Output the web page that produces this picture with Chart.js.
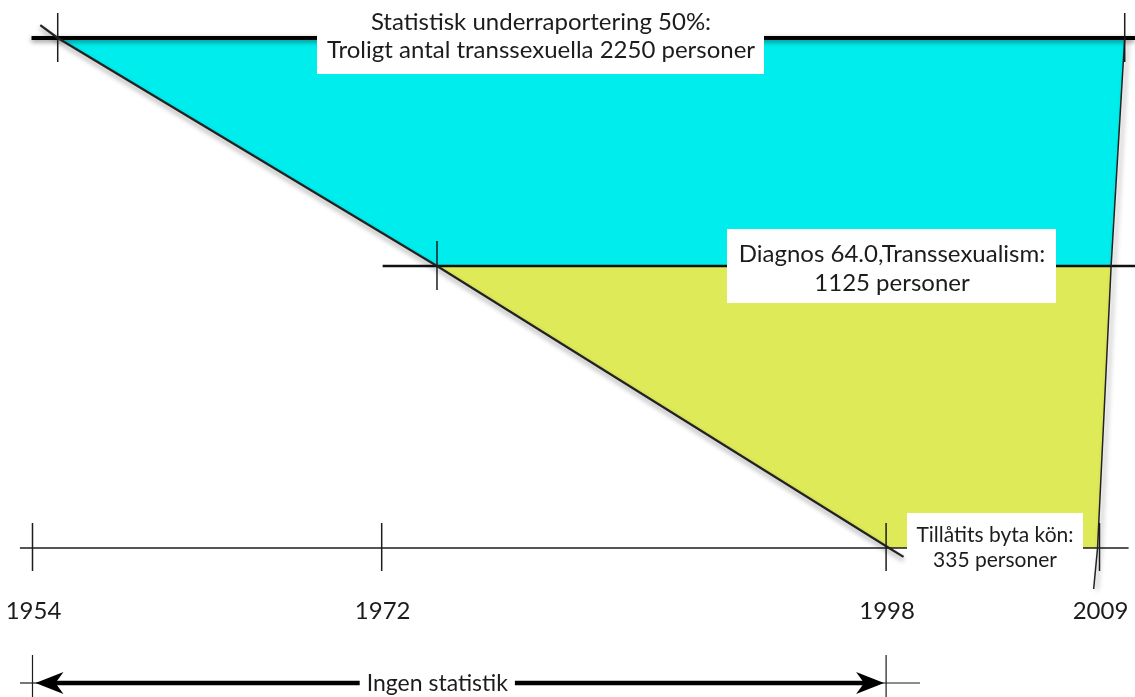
<!DOCTYPE html>
<html>
<head>
<meta charset="utf-8">
<script src="https://cdn.jsdelivr.net/npm/chart.js@4/dist/chart.umd.min.js"></script>
<style>
html,body{margin:0;padding:0;background:#ffffff;}
#wrap{width:1135px;height:697px;position:relative;}
canvas{display:block;}
</style>
</head>
<body>
<div id="wrap"><canvas id="c" width="1135" height="697" style="width:1135px;height:697px"></canvas></div>
<script>
// ---------------- data ----------------
const timelineYears  = [1954, 1972, 1998, 2009];
const timelineLabels = ['1954', '1972', '1998', '2009'];
const levelValues    = [2250, 1125, 335];          // probable total, diagnosis 64.0, allowed to change sex

const cyanYears   = [1955.3, 2010.3, 2009.6, 1974.85];
const cyanValues  = [2250, 2250, 1125, 1125];
const yellowYears  = [1974.85, 2009.6, 2008.9, 1998.15];
const yellowValues = [1125, 1125, 335, 335];

const diagonalYears  = [1954.4, 1955.3, 1974.85, 1998.15, 1998.9];
const diagonalValues = [2314, 2250, 1125, 335, 310];
const rightEdgeYears  = [2010.3, 2009.6, 2008.9, 2008.7];
const rightEdgeValues = [2250, 1125, 335, 220];

const topLineYears  = [1953.95, 2010.83];
const midLineYears  = [1972.05, 2010.83];
const axisLineYears = [1953.35, 2010.5];

const levelTickYears  = [1955.3, 1974.85, 2010.3];
const levelTickValues = [2250, 1125, 2250];
const noStatsYears = [1954, 1998];

const topNote    = ['Statistisk underraportering 50%:', 'Troligt antal transsexuella 2250 personer'];
const midNote    = ['Diagnos 64.0,Transsexualism:', '1125 personer'];
const bottomNote = ['Tillåtits byta kön:', '335 personer'];
const noStatsLabel = 'Ingen statistik';

// ---------------- piecewise "level" scale ----------------
const levelAnchors = [[335, 0.2138], [1125, 0.6184], [2250, 0.9455]];
class LevelScale extends Chart.LinearScale {
  _toDecimal(v) {
    const a = levelAnchors;
    let i = 0;
    if (v >= a[a.length - 1][0]) i = a.length - 2;
    else if (v > a[0][0]) { while (v > a[i + 1][0]) i++; }
    const [v0, d0] = a[i], [v1, d1] = a[i + 1];
    return d0 + (v - v0) / (v1 - v0) * (d1 - d0);
  }
  getPixelForValue(v) { return this.getPixelForDecimal(this._toDecimal(v)); }
  getValueForPixel(p) {
    const d = this.getDecimalForPixel(p);
    const a = levelAnchors;
    let i = 0;
    if (d >= a[a.length - 1][1]) i = a.length - 2;
    else if (d > a[0][1]) { while (d > a[i + 1][1]) i++; }
    const [v0, d0] = a[i], [v1, d1] = a[i + 1];
    return v0 + (d - d0) / (d1 - d0) * (v1 - v0);
  }
}
LevelScale.id = 'level';
LevelScale.defaults = Chart.LinearScale.defaults;
Chart.register(LevelScale);

const pts = (xs, ys) => xs.map((x, i) => ({x: x, y: Array.isArray(ys) ? ys[i] : ys}));

const FONT = 'Lato, "Open Sans", sans-serif';
const INK = '#1c1c1c';

const annot = {
  id: 'annot',
  beforeDatasetDraw(chart, args) {
    const ds = chart.data.datasets[args.index];
    if (ds.shadow) {
      const ctx = chart.ctx;
      ctx.save();
      ctx.shadowColor = 'rgba(0,0,0,0.45)';
      ctx.shadowBlur = 5;
      ctx.shadowOffsetX = ds.shadow[0];
      ctx.shadowOffsetY = ds.shadow[1];
    }
  },
  afterDatasetDraw(chart, args) {
    const ds = chart.data.datasets[args.index];
    if (ds.shadow) chart.ctx.restore();
  },
  afterDatasetsDraw(chart) {
    const ctx = chart.ctx, xs = chart.scales.x, ys = chart.scales.y;
    ctx.save();
    ctx.strokeStyle = INK;
    ctx.lineWidth = 1.5;
    const vline = (x, y0, y1) => { ctx.beginPath(); ctx.moveTo(x, y0); ctx.lineTo(x, y1); ctx.stroke(); };

    // cross ticks on levels
    levelTickYears.forEach((yr, i) => {
      const px = xs.getPixelForValue(yr), py = ys.getPixelForValue(levelTickValues[i]);
      vline(px, py - 25, py + 24);
    });
    // timeline ticks + labels
    const axisY = ys.getPixelForValue(levelValues[2]);
    ctx.fillStyle = INK;
    ctx.font = '24px ' + FONT;
    ctx.textAlign = 'center';
    ctx.textBaseline = 'alphabetic';
    timelineYears.forEach((yr, i) => {
      const px = xs.getPixelForValue(yr);
      vline(px, axisY - 25, axisY + 23);
      ctx.fillText(timelineLabels[i], px + 1, 619);
    });

    // white label boxes
    const box = (x0, y0, x1, y1, lines, size, base, gap, cx) => {
      ctx.fillStyle = '#ffffff';
      ctx.fillRect(x0, y0, x1 - x0, y1 - y0);
      ctx.fillStyle = INK;
      ctx.font = size + 'px ' + FONT;
      ctx.textAlign = 'center';
      ctx.textBaseline = 'alphabetic';
      lines.forEach((t, i) => ctx.fillText(t, cx, base + i * gap));
    };
    box(317, 0, 764, 74, topNote, 24, 30, 28, 541);
    box(727, 229, 1056, 303, midNote, 24, 262, 29, 892);
    box(907, 513, 1083, 576, bottomNote, 21, 542, 25, 995);

    // "Ingen statistik" double arrow
    const ay = 683;
    const xa = xs.getPixelForValue(noStatsYears[0]), xb = xs.getPixelForValue(noStatsYears[1]);
    ctx.strokeStyle = INK;
    ctx.lineWidth = 1.2;
    vline(xa, 655, 697);
    vline(xb, 655, 697);
    ctx.beginPath(); ctx.moveTo(20, ay); ctx.lineTo(xa + 10, ay); ctx.stroke();
    ctx.beginPath(); ctx.moveTo(xb - 10, ay); ctx.lineTo(920, ay); ctx.stroke();
    ctx.font = '23px ' + FONT;
    const tw = ctx.measureText(noStatsLabel).width;
    const cx = (xa + xb) / 2 - 22;
    ctx.lineWidth = 4.5;
    ctx.strokeStyle = '#000';
    ctx.beginPath(); ctx.moveTo(xa + 20, ay); ctx.lineTo(cx - tw / 2 - 7, ay); ctx.stroke();
    ctx.beginPath(); ctx.moveTo(cx + tw / 2 + 7, ay); ctx.lineTo(xb - 20, ay); ctx.stroke();
    ctx.fillStyle = '#000';
    const head = (tip, dir) => {
      ctx.beginPath();
      ctx.moveTo(tip, ay);
      ctx.lineTo(tip + dir * 28, ay - 11);
      ctx.lineTo(tip + dir * 20, ay);
      ctx.lineTo(tip + dir * 28, ay + 11);
      ctx.closePath();
      ctx.fill();
    };
    head(xa + 3, 1);
    head(xb - 2, -1);
    ctx.fillStyle = INK;
    ctx.textAlign = 'center';
    ctx.textBaseline = 'middle';
    ctx.fillText(noStatsLabel, cx, ay + 1);
    ctx.restore();
  }
};

const lineDs = (data, color, width, order, shadow) => ({
  data: data, showLine: true, fill: false, borderColor: color, borderWidth: width,
  pointRadius: 0, pointHoverRadius: 0, order: order, shadow: shadow, tension: 0
});

new Chart(document.getElementById('c'), {
  type: 'scatter',
  data: {
    datasets: [
      lineDs(pts(diagonalYears, diagonalValues), '#222222', 2.2, 1, [0, 3]),
      lineDs(pts(rightEdgeYears, rightEdgeValues), '#222222', 1.5, 2, [3, 1]),
      lineDs(pts(topLineYears, levelValues[0]), '#000000', 3.8, 3, [0, 2]),
      lineDs(pts(midLineYears, levelValues[1]), '#111111', 2.5, 4, null),
      lineDs(pts(axisLineYears, levelValues[2]), INK, 1.5, 5, null),
      { data: pts(cyanYears, cyanValues), showLine: true, fill: 'shape', backgroundColor: '#00EDED',
        borderWidth: 0, borderColor: 'rgba(0,0,0,0)', pointRadius: 0, order: 10 },
      { data: pts(yellowYears, yellowValues), showLine: true, fill: 'shape', backgroundColor: '#DFEA59',
        borderWidth: 0, borderColor: 'rgba(0,0,0,0)', pointRadius: 0, order: 11 }
    ]
  },
  options: {
    responsive: false,
    animation: false,
    devicePixelRatio: 1,
    layout: { padding: 0 },
    events: [],
    plugins: { legend: { display: false }, tooltip: { enabled: false } },
    scales: {
      x: { type: 'linear', display: false, min: 1952.325, max: 2010.83 },
      y: { type: 'level', display: false, min: 0, max: 2500 }
    }
  },
  plugins: [annot]
});
</script>
</body>
</html>
